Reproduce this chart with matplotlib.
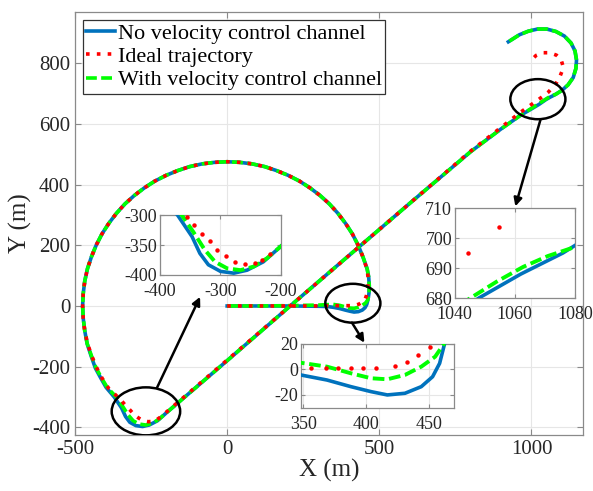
import matplotlib
matplotlib.use("Agg")
import matplotlib.pyplot as plt
from matplotlib.lines import Line2D
from matplotlib.patches import Ellipse

plt.rcParams["font.family"] = ["Liberation Serif", "DejaVu Serif"]
plt.rcParams["axes.unicode_minus"] = False

# big loop shared by all three paths (counter-clockwise)
loop_x = [446, 430, 411, 389, 364, 336, 305, 272, 238, 201, 162, 123, 82, 41, 0,
          -41, -82, -123, -162, -201, -238, -272, -305, -336, -364, -389, -411, -430, -446,
          -459, -468, -473, -475, -473, -468]
loop_y = [162, 201, 238, 272, 305, 336, 364, 389, 411, 430, 446, 459, 468, 473, 475,
          473, 468, 459, 446, 430, 411, 389, 364, 336, 305, 272, 238, 201, 162,
          123, 82, 41, 0, -41, -82]

# ideal path (red)
ideal_x = ([0, 100, 200, 300, 356, 368, 378, 388, 398, 408, 423, 433, 441, 451, 457, 461, 463, 463, 460]
           + loop_x
           + [-459, -446, -430, -411, -389,
              -356, -343, -331, -318, -306, -291, -276, -260, -243, -232, -218,
              -100, 0, 207, 400, 600, 800, 900, 964, 1044.4, 1054.7, 1066, 1080, 1092, 1100, 1103,
              1097, 1082, 1060, 1036, 1015, 1002, 997])
ideal_y = ([0, 0, 0, 0, 1, 1, 1, 1, 1, 1, 3, 6, 11, 18, 32, 50, 72, 95, 120]
           + loop_y
           + [-123, -162, -201, -238, -272,
              -303, -317, -331, -344, -358, -369, -378, -381, -380, -375, -365,
              -264, -178, 0, 166, 338, 510, 588, 638, 695.1, 703.6, 716, 732, 752, 772, 792,
              812, 826, 834, 834, 825, 812, 802])

# end spiral shared by the two tracked paths
spiral_x = [1100, 1120, 1137, 1146, 1148, 1143, 1130, 1108, 1080, 1050, 1020, 990, 960, 924]
spiral_y = [710, 728, 752, 782, 810, 840, 866, 889, 904, 912, 912, 905, 893, 870]

# tracked path without the velocity channel (blue)
novel_x = ([0, 100, 200, 300, 330, 348, 369, 388, 404, 417, 431, 444, 453, 458.6, 462.5, 466, 467, 465, 460]
           + loop_x
           + [-460, -447, -433, -415, -398,
              -371, -359, -347, -334, -320, -300, -278, -256, -229, -200,
              -100, 0, 207, 400, 600, 800, 900, 964, 1000, 1025, 1048, 1062, 1076]
           + spiral_x)
novel_y = ([0, 0, 0, -1, -2, -4.3, -8.3, -13.5, -17.4, -20, -18.7, -13.5, -5.7, 4.8, 20, 42, 68, 96, 122]
           + loop_y
           + [-125, -165, -205, -238, -268,
              -300, -318, -336, -364, -383, -394, -397, -392, -378, -352,
              -266, -180, 0, 166, 338, 508, 583, 628, 649, 664, 680, 688, 695]
           + spiral_y)

# tracked path with the velocity channel (green)
vel_x = ([0, 100, 200, 300, 348, 369, 388, 404, 417, 431, 444, 455, 462, 466, 467, 465, 460]
         + loop_x
         + [-460, -446, -431, -413, -393,
            -364, -345, -326, -309, -289, -267, -245, -223, -200,
            -100, 0, 207, 400, 600, 800, 900, 964, 1000, 1025, 1045.2, 1054, 1062.8, 1071, 1080]
         + spiral_x)
vel_y = ([0, 0, 1, 3, 5.3, 2.2, -3, -6.9, -7.7, -4.3, 2.2, 10, 20, 40, 65, 95, 122]
         + loop_y
         + [-124, -164, -203, -237, -270,
            -300, -328, -358, -378, -389, -392, -386, -372, -352,
            -266, -180, 0, 166, 338, 508, 583, 628, 651, 667, 680, 685.5, 690.4, 694, 697]
         + spiral_y)

labels = ["No velocity control channel", "Ideal trajectory", "With velocity control channel"]

BLUE = "#0072BD"
RED = "#FF0000"
GREEN = "#00FF00"
SPINE = "#8a8a8a"
GRID = "#e6e6e6"
DOT = (0, (1, 2.0))
DASH = (0, (3, 1.2))


def style_axes(a, size):
    a.grid(True, color=GRID, lw=0.8)
    a.set_axisbelow(True)
    for s in a.spines.values():
        s.set_color(SPINE)
        s.set_linewidth(0.9)
    a.tick_params(direction="in", top=True, right=True, color=SPINE,
                  labelsize=size, labelcolor="#262626", length=4)


fig = plt.figure(figsize=(5.93, 4.91), dpi=100)
ax = fig.add_axes([0.1265, 0.114, 0.857, 0.8615])
style_axes(ax, 15)

ax.plot(novel_x, novel_y, color=BLUE, lw=2.6, zorder=3)
ax.plot(vel_x, vel_y, color=GREEN, lw=2.6, ls=DASH, zorder=4)
ax.plot(ideal_x, ideal_y, color=RED, lw=2.6, ls=DOT, zorder=5)

ax.set_xlim(-500, 1170)
ax.set_ylim(-425, 968)
ax.set_xticks([-500, 0, 500, 1000])
ax.set_yticks([-400, -200, 0, 200, 400, 600, 800])
ax.set_xlabel("X (m)", fontsize=18, color="#262626", labelpad=0)
ax.set_ylabel("Y (m)", fontsize=18, color="#262626", labelpad=0)

handles = [Line2D([], [], color=BLUE, lw=2.6),
           Line2D([], [], color=RED, lw=2.6, ls=DOT),
           Line2D([], [], color=GREEN, lw=2.6, ls=DASH)]
leg = ax.legend(handles, labels, loc="upper left", bbox_to_anchor=(0.015, 0.981),
                borderaxespad=0, fontsize=16, handlelength=1.3, handletextpad=0.12,
                labelspacing=0.12, borderpad=0.15, fancybox=False, framealpha=1)
leg.get_frame().set_edgecolor("#333333")
leg.get_frame().set_linewidth(0.9)

# zoom circles and pointers
for cx, cy, w, h in [(-267, -347, 225, 158), (413, 9, 181, 128), (1021, 681, 181, 132)]:
    ax.add_patch(Ellipse((cx, cy), w, h, fill=False, ec="k", lw=1.8, zorder=6))

for start, end in [((-230, -268), (-89, 30)), ((410, -55), (451, -121)), ((1030, 615), (947, 328))]:
    ax.annotate("", xy=end, xytext=start, annotation_clip=False,
                arrowprops=dict(arrowstyle="-|>", color="k", lw=1.8, mutation_scale=12,
                                shrinkA=0, shrinkB=0), zorder=6)


def draw_inset(rect, xlim, ylim, xticks, yticks):
    ins = fig.add_axes(rect)
    style_axes(ins, 13)
    ins.tick_params(length=3)
    ins.tick_params(axis="x", pad=6)
    ins.tick_params(axis="y", pad=2)
    ins.plot(novel_x, novel_y, color=BLUE, lw=2.6, zorder=3)
    ins.plot(vel_x, vel_y, color=GREEN, lw=2.8, ls=DASH, zorder=4)
    ins.plot(ideal_x, ideal_y, color=RED, ls="none", marker="o", ms=3.2, mec="none", zorder=5)
    ins.set_xlim(*xlim)
    ins.set_ylim(*ylim)
    ins.set_xticks(xticks)
    ins.set_yticks(yticks)
    return ins


draw_inset([0.2698, 0.440, 0.204, 0.122], (-400, -200), (-400, -300),
           [-400, -300, -200], [-400, -350, -300])
draw_inset([0.507, 0.1697, 0.2585, 0.1297], (348, 470), (-30, 20),
           [350, 400, 450], [-20, 0, 20])
draw_inset([0.767, 0.393, 0.2024, 0.1833], (1040, 1080), (680, 710),
           [1040, 1060, 1080], [680, 690, 700, 710])

fig.savefig("out.png", dpi=100)
